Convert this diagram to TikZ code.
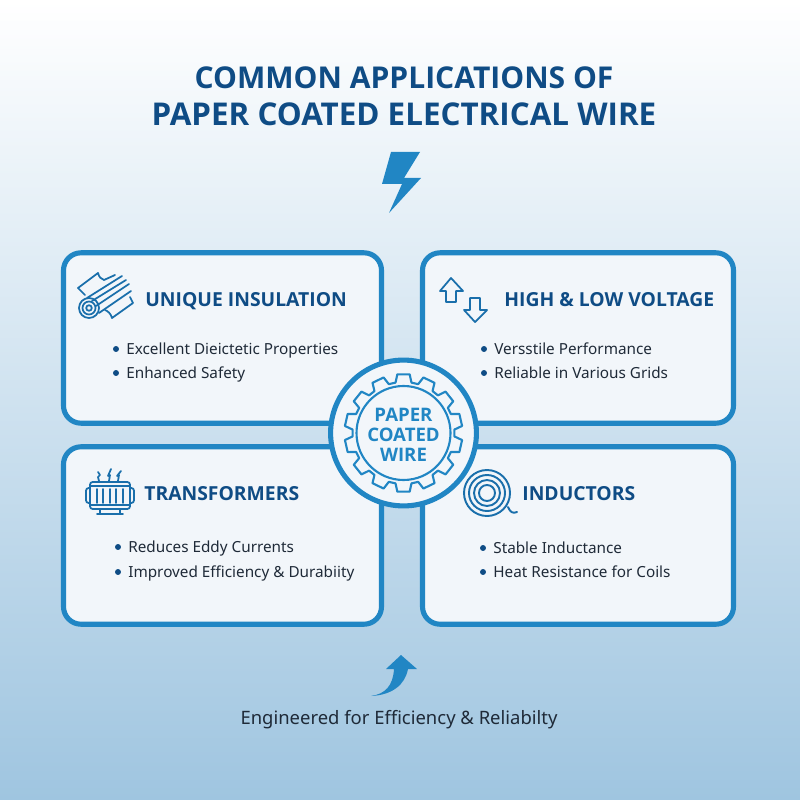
\documentclass[tikz,border=0pt]{standalone}
\usepackage{fontspec}
\setmainfont{Noto Sans}
\newfontfamily\headfont{Open Sans}
\usetikzlibrary{positioning}
\definecolor{wireblue}{HTML}{2186C4}
\definecolor{headblue}{HTML}{0F4C85}
\definecolor{bodyink}{HTML}{1F2A38}
\definecolor{cardfill}{HTML}{F2F6FA}
\definecolor{skyend}{HTML}{9FC5E0}
\tikzset{
	card/.style={draw=wireblue,line width=2.9pt,rounded corners=10pt,fill=cardfill,inner sep=0pt},
	heading/.style={anchor=west,text=headblue,font=\headfont\fontsize{11}{14}\selectfont\bfseries,inner sep=0pt,text height=8pt,text depth=0pt},
	bullet/.style={circle,fill=headblue,inner sep=0pt,minimum size=3.4pt},
	body/.style={anchor=west,text=bodyink,font=\fontsize{8.7}{11}\selectfont,inner sep=0pt,text height=6.5pt,text depth=2pt},
	titleline/.style={text=headblue,font=\headfont\bfseries,inner sep=0pt},
	icon/.style={draw=wireblue!60!headblue,line width=1pt,line join=round,line cap=round},
}
\begin{document}
\begin{tikzpicture}[x=0.02cm,y=-0.02cm]
	\useasboundingbox (0,0) rectangle (800,800);
	\shade[top color=white,bottom color=skyend] (0,0) rectangle (800,800);

	%title
	\node[titleline] (titleA) at (404,78) {\fontsize{17.1}{20.5}\selectfont COMMON APPLICATIONS OF};
	\node[titleline] (titleB) at (404,114) {\fontsize{17.85}{20.5}\selectfont PAPER COATED ELECTRICAL WIRE};

	%bolt
	\fill[wireblue] (391,152)--(420,152)--(404,178)--(421,178)--(389,213)--(402,184)--(382,184)--cycle;

	%cards
	\node[card,minimum width=181pt,minimum height=97pt] (cardA) at (222.5,338) {};
	\node[card,minimum width=177pt,minimum height=97pt] (cardB) at (578,338) {};
	\node[card,minimum width=181pt,minimum height=101pt] (cardC) at (222.5,535.5) {};
	\node[card,minimum width=177pt,minimum height=101pt] (cardD) at (578,535.5) {};

	%headings
	\node[heading] (headA) at (145,299) {UNIQUE INSULATION};
	\node[heading] (headB) at (504,299) {HIGH \& LOW VOLTAGE};
	\node[heading] (headC) at (144,493) {TRANSFORMERS};
	\node[heading] (headD) at (522,493) {INDUCTORS};

	%bullets
	\foreach \name/\x/\y/\txt in {a1/116/349/Excellent Dieictetic Properties,
		a2/116/373/Enhanced Safety,
		b1/484/349/Versstile Performance,
		b2/484/373/Reliable in Various Grids,
		c1/118/547/Reduces Eddy Currents,
		c2/118/572/Improved Efficiency \& Durabiity,
		d1/483/548/Stable Inductance,
		d2/483/572/Heat Resistance for Coils}{
		\node[bullet] (dot\name) at (\x,\y) {};
		\node[body] (text\name) at (\x+10,\y+2) {\txt};
	}

	%paper roll icon
	\begin{scope}[icon]
		\draw (85,295) -- (78,288) -- (98,273) .. controls (99,277) and (101,279) .. (104,280) -- (115,275);
		\draw (87,298) -- (122,276) (92,301) -- (126,280) (96,306) -- (129,284) (99,313) -- (131,291);
		\draw (130,297) -- (133,303) -- (112,318) .. controls (111,314) and (108,311) .. (105,310);
		\draw (89,308) circle (10);
		\draw (89,308) circle (6.5);
		\draw (89,308) circle (2.8);
	\end{scope}

	%arrows icon
	\begin{scope}[icon]
		\draw (446,302)--(446,291)--(440,291)--(451,278)--(463,291)--(456,291)--(456,302)--cycle;
		\draw (470,298)--(480,298)--(480,310)--(487,310)--(475,322)--(464,310)--(470,310)--cycle;
	\end{scope}

	%transformer icon
	\begin{scope}[icon]
		\draw[rounded corners=1.5pt] (90,482) rectangle (130,509);
		\draw (90,486)--(130,486) (90,505)--(130,505);
		\foreach \x in {97,103,110,116,123}
			\draw (\x,489)--(\x,503);
		\draw[rounded corners=1.5pt] (90,488)--(86,488)--(86,503)--(90,503);
		\draw[rounded corners=1.5pt] (130,488)--(134,488)--(134,503)--(130,503);
		\draw (100,509)--(100,514) (120,509)--(120,514) (97,514)--(123,514);
		\draw (99,481)--(98,477)--(100,475)--(98,472);
		\draw (109,481)--(110,475)--(108,476)--(111,469);
		\draw (118,481)--(119,475)--(117,476)--(121,471);
	\end{scope}

	%coil icon
	\begin{scope}[icon,line width=1.1pt]
		\foreach \r in {8,13,18,23}
			\draw (487,493) circle (\r);
		\draw (508,507) .. controls (510,512) and (513,514) .. (517,512);
	\end{scope}

	%hub in the middle
	\node[circle,draw=wireblue,line width=2.9pt,fill=cardfill,minimum size=83pt,inner sep=0pt] (hub) at (403.5,433) {};
	\draw[wireblue,line width=1.2pt,line join=round,shift={(403.5,433)}]
		\foreach \i in {0,...,13}{
			\ifnum\i=0 (90+\i*25.714-9:51) \else --(90+\i*25.714-9:51) \fi
			--(90+\i*25.714-6:59)--(90+\i*25.714+6:59)--(90+\i*25.714+9:51)
		} --cycle;
	\draw[wireblue,line width=1.2pt] (hub.center) circle (47);
	\node[text=wireblue,align=center,font=\headfont\fontsize{10.6}{11.4}\selectfont\bfseries] (hubtext) at (403.5,435) {PAPER\\COATED\\WIRE};

	%curved arrow
	\fill[wireblue] (371,696) .. controls (385,694) and (393,686) .. (394,669)--(386,669)--(401,655)--(417,669)--(408,669) .. controls (405,685) and (392,695) .. (371,696)--cycle;

	\node[text=bodyink,font=\fontsize{10.5}{12}\selectfont] (foot) at (399,720) {Engineered for Efficiency \& Reliabilty};
\end{tikzpicture}
\end{document}
